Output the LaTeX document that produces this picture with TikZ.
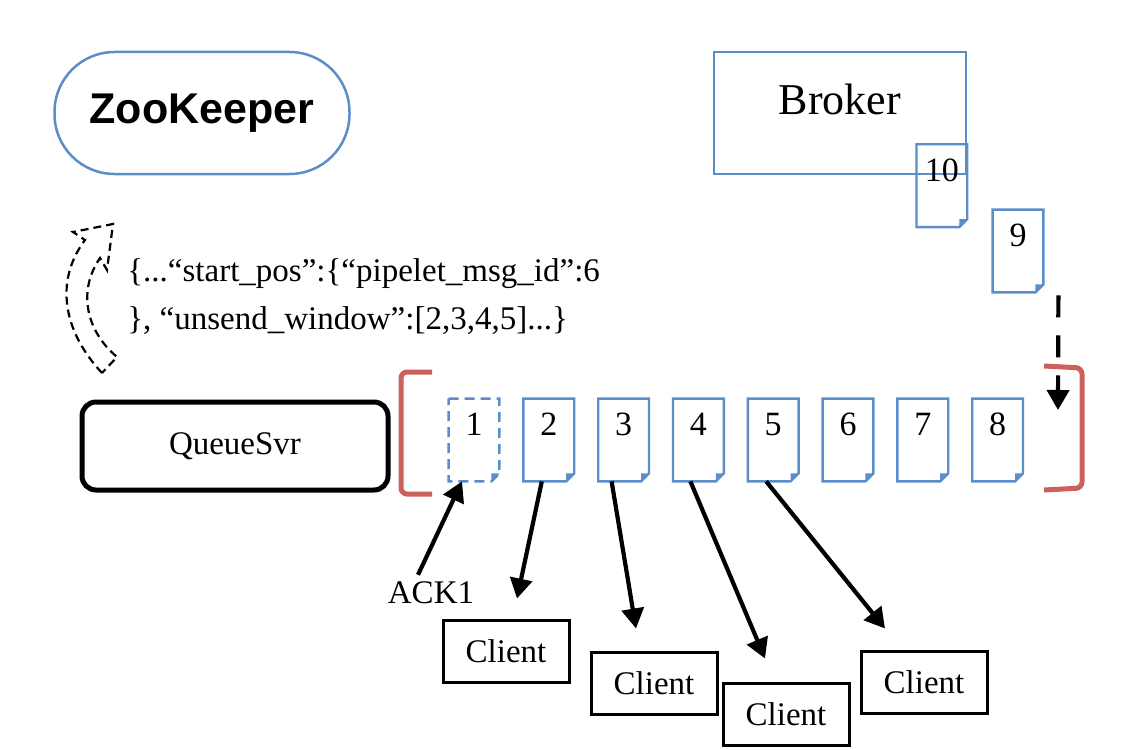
\documentclass[tikz,border=0pt]{standalone}
\usepackage{fontspec}
\setmainfont{Liberation Serif}
\newfontfamily\sansbold{Liberation Sans}
\usetikzlibrary{arrows.meta,positioning}
\definecolor{qblue}{RGB}{91,141,201}
\definecolor{qred}{RGB}{204,96,90}
\newcommand\txtfont{\fontsize{16.5}{20}\selectfont}
\newcommand\numfont{\fontsize{17}{20}\selectfont}
\tikzset{>={Triangle[length=10pt,width=11pt]}}
\tikzset{
  docline/.style={draw=qblue,line width=1.2pt},
  docshape/.style={append after command={\pgfextra{
      \draw[docline,#1] (\tikzlastnode.north west) -- (\tikzlastnode.north east)
        -- ([yshift=4pt]\tikzlastnode.south east) -- ([xshift=-4pt]\tikzlastnode.south east)
        -- (\tikzlastnode.south west) -- cycle;
      \fill[qblue] ([yshift=4pt]\tikzlastnode.south east) -- ([xshift=-4pt]\tikzlastnode.south east)
        -- ([shift={(-4pt,4pt)}]\tikzlastnode.south east) -- cycle;}}},
  docbody/.style={rectangle,inner sep=0pt,minimum width=25pt,minimum height=41pt,
    font=\numfont,text height=11.5pt,text depth=16pt},
  doc/.style={docbody,docshape=solid},
  ghostdoc/.style={docbody,docshape={dash pattern=on 5pt off 3pt}},
  box/.style={draw,line width=1.5pt,minimum width=63pt,minimum height=31pt,font=\txtfont},
  flow/.style={->,line width=2.1pt},
  bracket/.style={draw=qred,line width=2.5pt,rounded corners=3pt}
}

\begin{document}
\begin{tikzpicture}[x=0.5pt,y=-0.5pt]
\useasboundingbox (0,0) rectangle (1134,749);
% coordination and source
\node[draw=qblue,line width=1.25pt,rounded corners=30pt,minimum width=147.5pt,minimum height=61pt,
  font=\sansbold\bfseries\fontsize{21.5}{24}\selectfont] (zk) at (202,113) {ZooKeeper};
\node[draw=qblue,line width=1.25pt,minimum width=126pt,minimum height=61pt,
  font=\fontsize{22}{26}\selectfont,text height=15pt,text depth=13.5pt] (broker) at (840,113) {Broker};
\node[doc,anchor=north east] (d10) at ([yshift=15.5pt]broker.south east) {10};
\node[doc] (d9) at (1018,251) {9};

% queue server and its window
\node[draw,line width=2.5pt,rounded corners=7pt,minimum width=153pt,minimum height=44pt,font=\txtfont] (qsvr) at (235,446) {QueueSvr};
\node[ghostdoc] (d1) at (474,440) {1};
\node[doc] (d2) [right=12pt of d1] {2};
\node[doc] (d3) [right=12pt of d2] {3};
\node[doc] (d4) [right=12pt of d3] {4};
\node[doc] (d5) [right=12pt of d4] {5};
\node[doc] (d6) [right=12pt of d5] {6};
\node[doc] (d7) [right=12pt of d6] {7};
\node[doc] (d8) [right=12pt of d7] {8};
\draw[bracket] (432,372) -- (401,372) -- (401,494) -- (432,494);
\draw[bracket] (1044,366) -- (1082,368) -- (1082,488) -- (1044,490);
\coordinate (slot) at (1058,410);
\draw[flow,dash pattern=on 11pt off 9pt] ([shift={(15,3)}]d9.south east) -- (slot);

% checkpoint written back
\node[anchor=west,align=left,inner sep=0pt,font=\fontsize{16.5}{24}\selectfont] (meta) at (127,297)
  {\{...“start\_pos”:\{“pipelet\_msg\_id”:6\\\}, “unsend\_window”:[2,3,4,5]...\}};
\draw[dash pattern=on 4pt off 2.5pt,line width=1.1pt] (102,373) .. controls (62,330) and (55,280) .. (85,240)
  -- (73,232) -- (113,224) -- (107,270) -- (100,258) .. controls (78,290) and (85,330) .. (117,357) -- cycle;

% clients
\node[font=\txtfont] (ack) at (431,593) {ACK1};
\node[box] (c1) at (506,651) {Client};
\node[box] (c2) at (654,683) {Client};
\node[box] (c3) at (786,714) {Client};
\node[box] (c4) at (924,682) {Client};
\draw[flow] ([xshift=-6.5pt]ack.north) -- ([xshift=-6pt]d1.south);
\draw[flow] ([xshift=-3.5pt]d2.south) -- ([shift={(11,-20)}]c1.north);
\draw[flow] ([xshift=-6pt]d3.south) -- ([shift={(-18,-22)}]c2.north);
\draw[flow] ([xshift=-4pt]d4.south) -- ([shift={(-21,-23)}]c3.north);
\draw[flow] ([xshift=-3.5pt]d5.south) -- ([shift={(-39,-21)}]c4.north);
\end{tikzpicture}
\end{document}
